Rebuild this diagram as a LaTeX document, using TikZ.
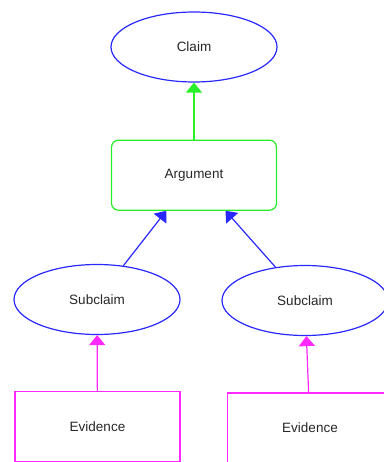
\documentclass[tikz,border=0pt]{standalone}
\usepackage{fontspec}
\setmainfont{Liberation Sans}
\usetikzlibrary{arrows.meta,positioning,shapes.geometric}

\definecolor{claimblue}{RGB}{40,40,255}
\definecolor{arggreen}{RGB}{40,240,40}
\definecolor{evidmagenta}{RGB}{255,40,255}

\begin{document}
\begin{tikzpicture}[x=1pt,y=1pt,
        font=\fontsize{13.5}{16}\selectfont,
        every node/.style={text=black!85},
        claim/.style={ellipse,draw=claimblue,line width=1.2pt,minimum width=166pt,minimum height=70pt,inner sep=0pt},
        argument/.style={rectangle,rounded corners=7pt,draw=arggreen,line width=1.2pt,minimum width=165pt,minimum height=70pt},
        evidence/.style={rectangle,draw=evidmagenta,line width=1.2pt,minimum width=165pt,minimum height=70pt},
        link/.style={line width=1.2pt,-{Triangle[width=16pt,length=10pt]}}]
        \useasboundingbox (0,0) rectangle (383,-462);

        \node[claim] (claim) at (194,-47) {Claim};
        \node[argument] (argument) [below=57pt of claim] {Argument};
        \node[claim] (subclaim left) at (97,-299.5) {Subclaim};
        \node[claim] (subclaim right) at (305,-300.5) {Subclaim};
        \node[evidence] (evidence left) at (97.5,-426.5) {Evidence};
        \node[evidence] (evidence right) at (310,-428) {Evidence};

        \draw [link,arggreen] (argument) to (claim);
        \draw [link,claimblue] (subclaim left) to (argument);
        \draw [link,claimblue] (subclaim right) to (argument);
        \draw [link,evidmagenta] (evidence left) to (subclaim left);
        \draw [link,evidmagenta] (evidence right) to (subclaim right);
\end{tikzpicture}
\end{document}
